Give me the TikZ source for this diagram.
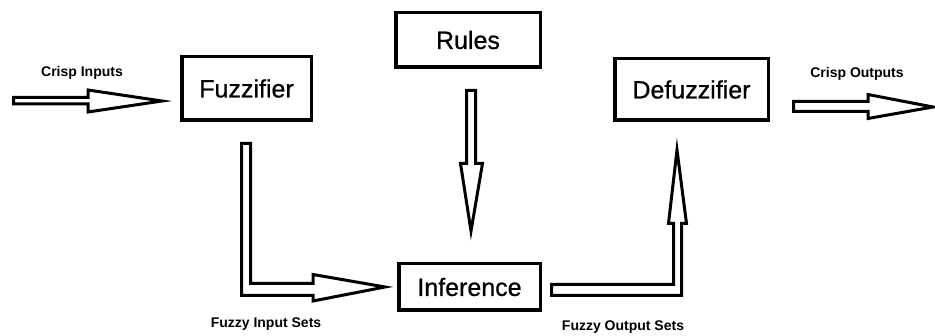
\documentclass[tikz,border=0pt]{standalone}
\usepackage{fontspec}
\setmainfont{Liberation Sans}
\newfontfamily\stagefont{Liberation Sans}[FakeBold=0.7]
\begin{document}
\begin{tikzpicture}[x=1pt,y=-1pt,
  stage/.style={draw=black,line width=3.5pt,fill=white,inner sep=0pt,
    font=\stagefont\fontsize{25}{30}\selectfont},
  flow/.style={draw=black,line width=3pt,fill=white,line join=miter},
  tag/.style={inner sep=0pt,font=\fontsize{14}{17}\selectfont\bfseries}]
\useasboundingbox (0,0) rectangle (935,336);

% processing stages
\node[stage,minimum width=129.5pt,minimum height=63.5pt] (fuzz)  at (246.5,88.5) {Fuzzifier};
\node[stage,minimum width=144.5pt,minimum height=54.5pt] (rules) at (468,40) {Rules};
\node[stage,minimum width=141.5pt,minimum height=46.5pt] (inf)   at (469.5,287) {Inference};
\node[stage,minimum width=153.5pt,minimum height=61.5pt] (defuzz) at (691.5,89.5) {Defuzzifier};

% end points of the hollow block arrows
\coordinate (inA) at (13.5,100);
\coordinate (outB) at (933,107);

% crisp inputs into the fuzzifier
\draw[flow] (inA) |- (88,97.5) -- (88,90) -- (162,101) -- (88,112) -- (88,104) -| cycle;
% fuzzifier down and across to inference
\draw[flow] (241.5,143.5) -- (241.5,295.5) -- (313,295.5) -- (313,301) -- (385,287)
  -- (313,274.5) -- (313,283.5) -- (250.5,283.5) -- (250.5,143.5) -- cycle;
% rules down to inference
\draw[flow] (466.5,90.5) -- (475.5,90.5) -- (475.5,163.5) -- (482.5,163.5) -- (471,231)
  -- (460.5,163.5) -- (466.5,163.5) -- cycle;
% inference across and up to defuzzifier
\draw[flow] (551.5,284.5) -- (673.5,284.5) -- (673.5,223.5) -- (668.5,223.5) -- (677,150)
  -- (686.5,223.5) -- (681.5,223.5) -- (681.5,295.5) -- (551.5,295.5) -- cycle;
% crisp outputs from the defuzzifier
\draw[flow] (793.5,101.5) -- (868,101.5) -- (868,94.5) -- (outB) -- (868,118.5)
  -- (868,111.5) -- (793.5,111.5) -- cycle;

% arrow labels
\node[tag] (lin)  at (82,73)   {Crisp Inputs};
\node[tag] (lfin) at (266,324) {Fuzzy Input Sets};
\node[tag] (lfout) at (623,327) {Fuzzy Output Sets};
\node[tag] (lout) at (857,74)  {Crisp Outputs};
\end{tikzpicture}
\end{document}
